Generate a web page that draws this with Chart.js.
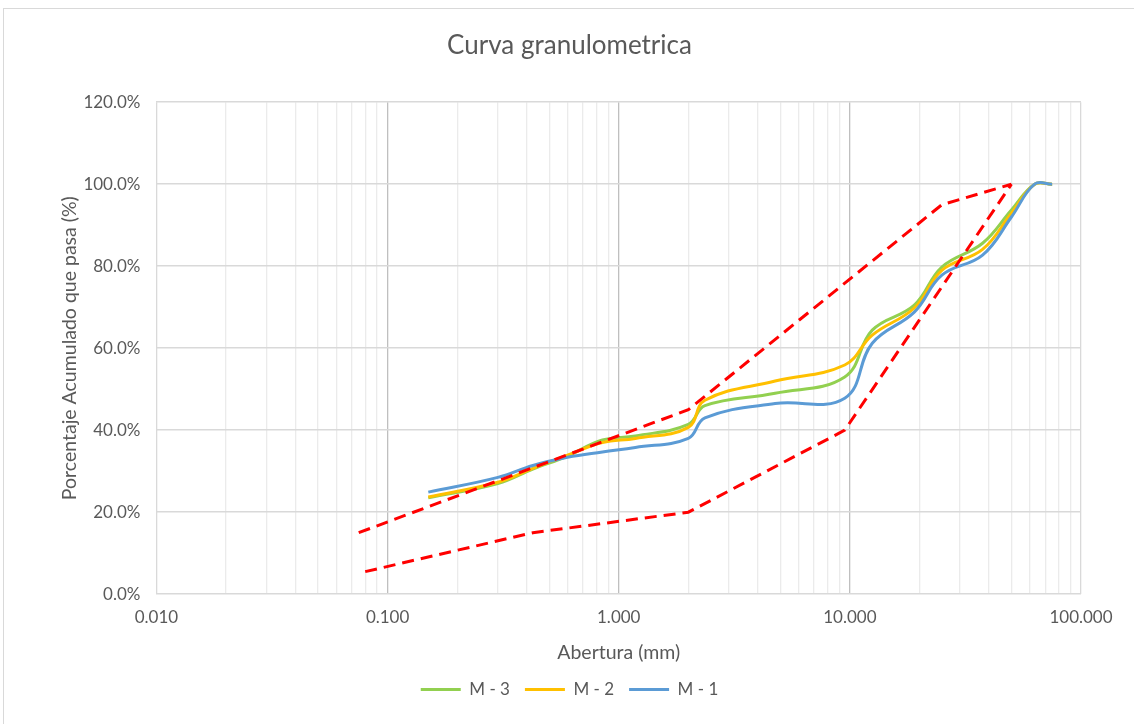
<!DOCTYPE html>
<html>
<head>
<meta charset="utf-8">
<script src="https://cdn.jsdelivr.net/npm/chart.js@4.4.0/dist/chart.umd.min.js"></script>
<style>
  html, body { margin: 0; padding: 0; background: #fff; }
  #wrap { position: relative; width: 1134px; height: 724px; overflow: hidden; }
  #frame { position: absolute; left: 3px; top: 8px; width: 1200px; height: 800px; border: 1px solid #D9D9D9; }
  #granChart { position: absolute; left: 0; top: 0; }
</style>
</head>
<body>
<div id="wrap">
  <div id="frame"></div>
  <canvas id="granChart" width="1134" height="724"></canvas>
</div>
<script>
'use strict'

// sieve openings (mm)
const sieves = [0.15, 0.3, 0.425, 0.6, 0.85, 1.18, 2.0, 2.36, 4.75, 9.5, 12.5, 19, 25, 37.5, 50, 63, 75]

// % passing for each sample
const m1 = [24.9, 28.5, 31.4, 33.4, 34.7, 35.8, 38.0, 43.0, 46.5, 47.8, 61.2, 68.8, 77.8, 82.7, 92.0, 100, 100]
const m2 = [23.7, 27.3, 30.7, 33.9, 37.0, 38.0, 40.7, 47.3, 52.0, 55.9, 63.2, 69.8, 79.0, 84.1, 92.9, 100, 100]
const m3 = [23.5, 27.0, 30.5, 33.7, 37.6, 38.6, 41.4, 46.0, 49.0, 53.0, 64.4, 70.5, 79.8, 85.6, 93.7, 100, 100]

// gradation limits
const upperSieves = [0.075, 2.0, 25, 50]
const upperLimit = [15, 45, 95, 100]
const lowerSieves = [0.08, 0.425, 2.0, 9.5, 50]
const lowerLimit = [5.5, 15, 20, 40, 100]

const decades = [0.01, 0.1, 1, 10, 100]
const decadeLabels = ['0.010', '0.100', '1.000', '10.000', '100.000']

const textColor = '#595959'
const fontFamily = 'Lato, "Open Sans", sans-serif'

const toPoints = (xs, ys) => xs.map((x, i) => ({ x: x, y: ys[i] }))

// gridline positions: 1..9 per decade
const gridValues = []
decades.forEach((d, i) => {
  if (i === decades.length - 1) { gridValues.push(d); return }
  for (let k = 1; k <= 9; k++) gridValues.push(+(d * k).toPrecision(3))
})

const isDecade = v => decades.some(d => Math.abs(d - v) < d * 1e-6)

const sampleLine = (label, pts, color) => ({
  label: label,
  data: pts,
  borderColor: color,
  backgroundColor: color,
  borderWidth: 3,
  pointRadius: 0,
  showLine: true,
  tension: 0.4,
  fill: false
})

const limitLine = (label, pts) => ({
  label: label,
  data: pts,
  borderColor: '#FF0000',
  backgroundColor: '#FF0000',
  borderWidth: 3,
  borderDash: [12, 7],
  pointRadius: 0,
  showLine: true,
  tension: 0,
  fill: false
})

const ctx = document.getElementById('granChart').getContext('2d')
const chart = new Chart(ctx, {
  type: 'scatter',
  data: {
    datasets: [
      limitLine('Limite superior', toPoints(upperSieves, upperLimit)),
      limitLine('Limite inferior', toPoints(lowerSieves, lowerLimit)),
      sampleLine('M - 1', toPoints(sieves, m1), '#5B9BD5'),
      sampleLine('M - 2', toPoints(sieves, m2), '#FFC000'),
      sampleLine('M - 3', toPoints(sieves, m3), '#92D050')
    ]
  },
  options: {
    responsive: false,
    animation: false,
    layout: { padding: { top: 30, left: 58, right: 53, bottom: 16 } },
    plugins: {
      tooltip: { enabled: false },
      title: {
        display: true,
        text: 'Curva granulometrica',
        color: textColor,
        font: { family: fontFamily, size: 26, weight: 'normal' },
        padding: { top: 0, bottom: 41 }
      },
      legend: {
        position: 'bottom',
        labels: {
          color: textColor,
          font: { family: fontFamily, size: 17 },
          usePointStyle: true,
          pointStyle: 'line',
          pointStyleWidth: 40,
          padding: 15,
          filter: item => item.text.startsWith('M'),
          sort: (a, b) => b.datasetIndex - a.datasetIndex
        }
      }
    },
    scales: {
      x: {
        type: 'logarithmic',
        min: 0.01,
        max: 100,
        afterBuildTicks: scale => {
          scale.ticks = gridValues.map(v => ({ value: v }))
        },
        ticks: {
          autoSkip: false,
          maxRotation: 0,
          padding: 13,
          color: textColor,
          font: { family: fontFamily, size: 17 },
          callback: v => {
            const i = decades.findIndex(d => Math.abs(d - v) < d * 1e-6)
            return i >= 0 ? decadeLabels[i] : ''
          }
        },
        grid: {
          drawTicks: false,
          lineWidth: 1.3,
          color: c => {
            const v = c.tick ? c.tick.value : 0
            if (v === 0.01 || v === 100) return '#D9D9D9'
            return isDecade(v) ? '#BFBFBF' : '#EBEBEB'
          }
        },
        border: { display: false },
        title: {
          display: true,
          text: 'Abertura (mm)',
          color: textColor,
          font: { family: fontFamily, size: 19.5 },
          padding: { top: 0, bottom: 2 }
        }
      },
      y: {
        min: 0,
        max: 120,
        ticks: {
          stepSize: 20,
          padding: 16,
          color: textColor,
          font: { family: fontFamily, size: 17 },
          callback: v => v.toFixed(1) + '%'
        },
        grid: { drawTicks: false, color: '#D9D9D9', lineWidth: 1.5 },
        border: { display: false },
        title: {
          display: true,
          text: 'Porcentaje Acumulado que pasa (%)',
          color: textColor,
          font: { family: fontFamily, size: 19.5 },
          padding: { top: 0, bottom: -14 }
        }
      }
    }
  }
})
</script>
</body>
</html>
